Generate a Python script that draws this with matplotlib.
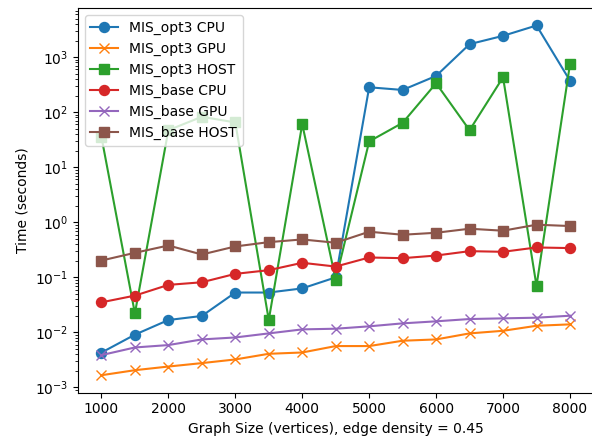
import matplotlib
matplotlib.use("Agg")
import matplotlib.pyplot as plt

sizes = [1000, 1500, 2000, 2500, 3000, 3500, 4000, 4500, 5000, 5500, 6000, 6500, 7000, 7500, 8000]

opt3_cpu = [0.0043, 0.0091, 0.0168, 0.0199, 0.053, 0.053, 0.063, 0.10, 283, 253, 455, 1718, 2432, 3750, 373]
opt3_gpu = [0.00167, 0.00206, 0.0024, 0.00277, 0.00323, 0.00409, 0.00432, 0.00565, 0.00565, 0.00706, 0.00746, 0.0096, 0.0107, 0.0132, 0.0140]
opt3_host = [35.6, 0.0222, 47, 82.5, 65, 0.0168, 60.7, 0.091, 29.4, 64, 335, 47, 430, 0.070, 743]
base_cpu = [0.0352, 0.0466, 0.073, 0.0814, 0.1157, 0.135, 0.1837, 0.157, 0.2295, 0.223, 0.249, 0.299, 0.291, 0.349, 0.34]
base_gpu = [0.00387, 0.00533, 0.00589, 0.00746, 0.0081, 0.0096, 0.01135, 0.01167, 0.0129, 0.0146, 0.0159, 0.0175, 0.018, 0.0185, 0.0201]
base_host = [0.202, 0.279, 0.379, 0.26, 0.364, 0.436, 0.488, 0.425, 0.674, 0.594, 0.645, 0.764, 0.703, 0.904, 0.855]

series = [
    ("MIS_opt3 CPU", opt3_cpu, "o"),
    ("MIS_opt3 GPU", opt3_gpu, "x"),
    ("MIS_opt3 HOST", opt3_host, "s"),
    ("MIS_base CPU", base_cpu, "o"),
    ("MIS_base GPU", base_gpu, "x"),
    ("MIS_base HOST", base_host, "s"),
]

fig = plt.figure(figsize=(5.92, 4.41), dpi=100)
ax = fig.add_axes([78 / 592, 1 - 392.7 / 441, (593.4 - 78) / 592, (392.7 - 8) / 441])
for label, vals, m in series:
    ax.plot(sizes, vals, marker=m, markersize=7.2, label=label)
ax.set_yscale("log")
ax.set_xlabel("Graph Size (vertices), edge density = 0.45")
ax.set_ylabel("Time (seconds)")
ax.legend(loc="upper left")
fig.savefig("out.png", dpi=100)
